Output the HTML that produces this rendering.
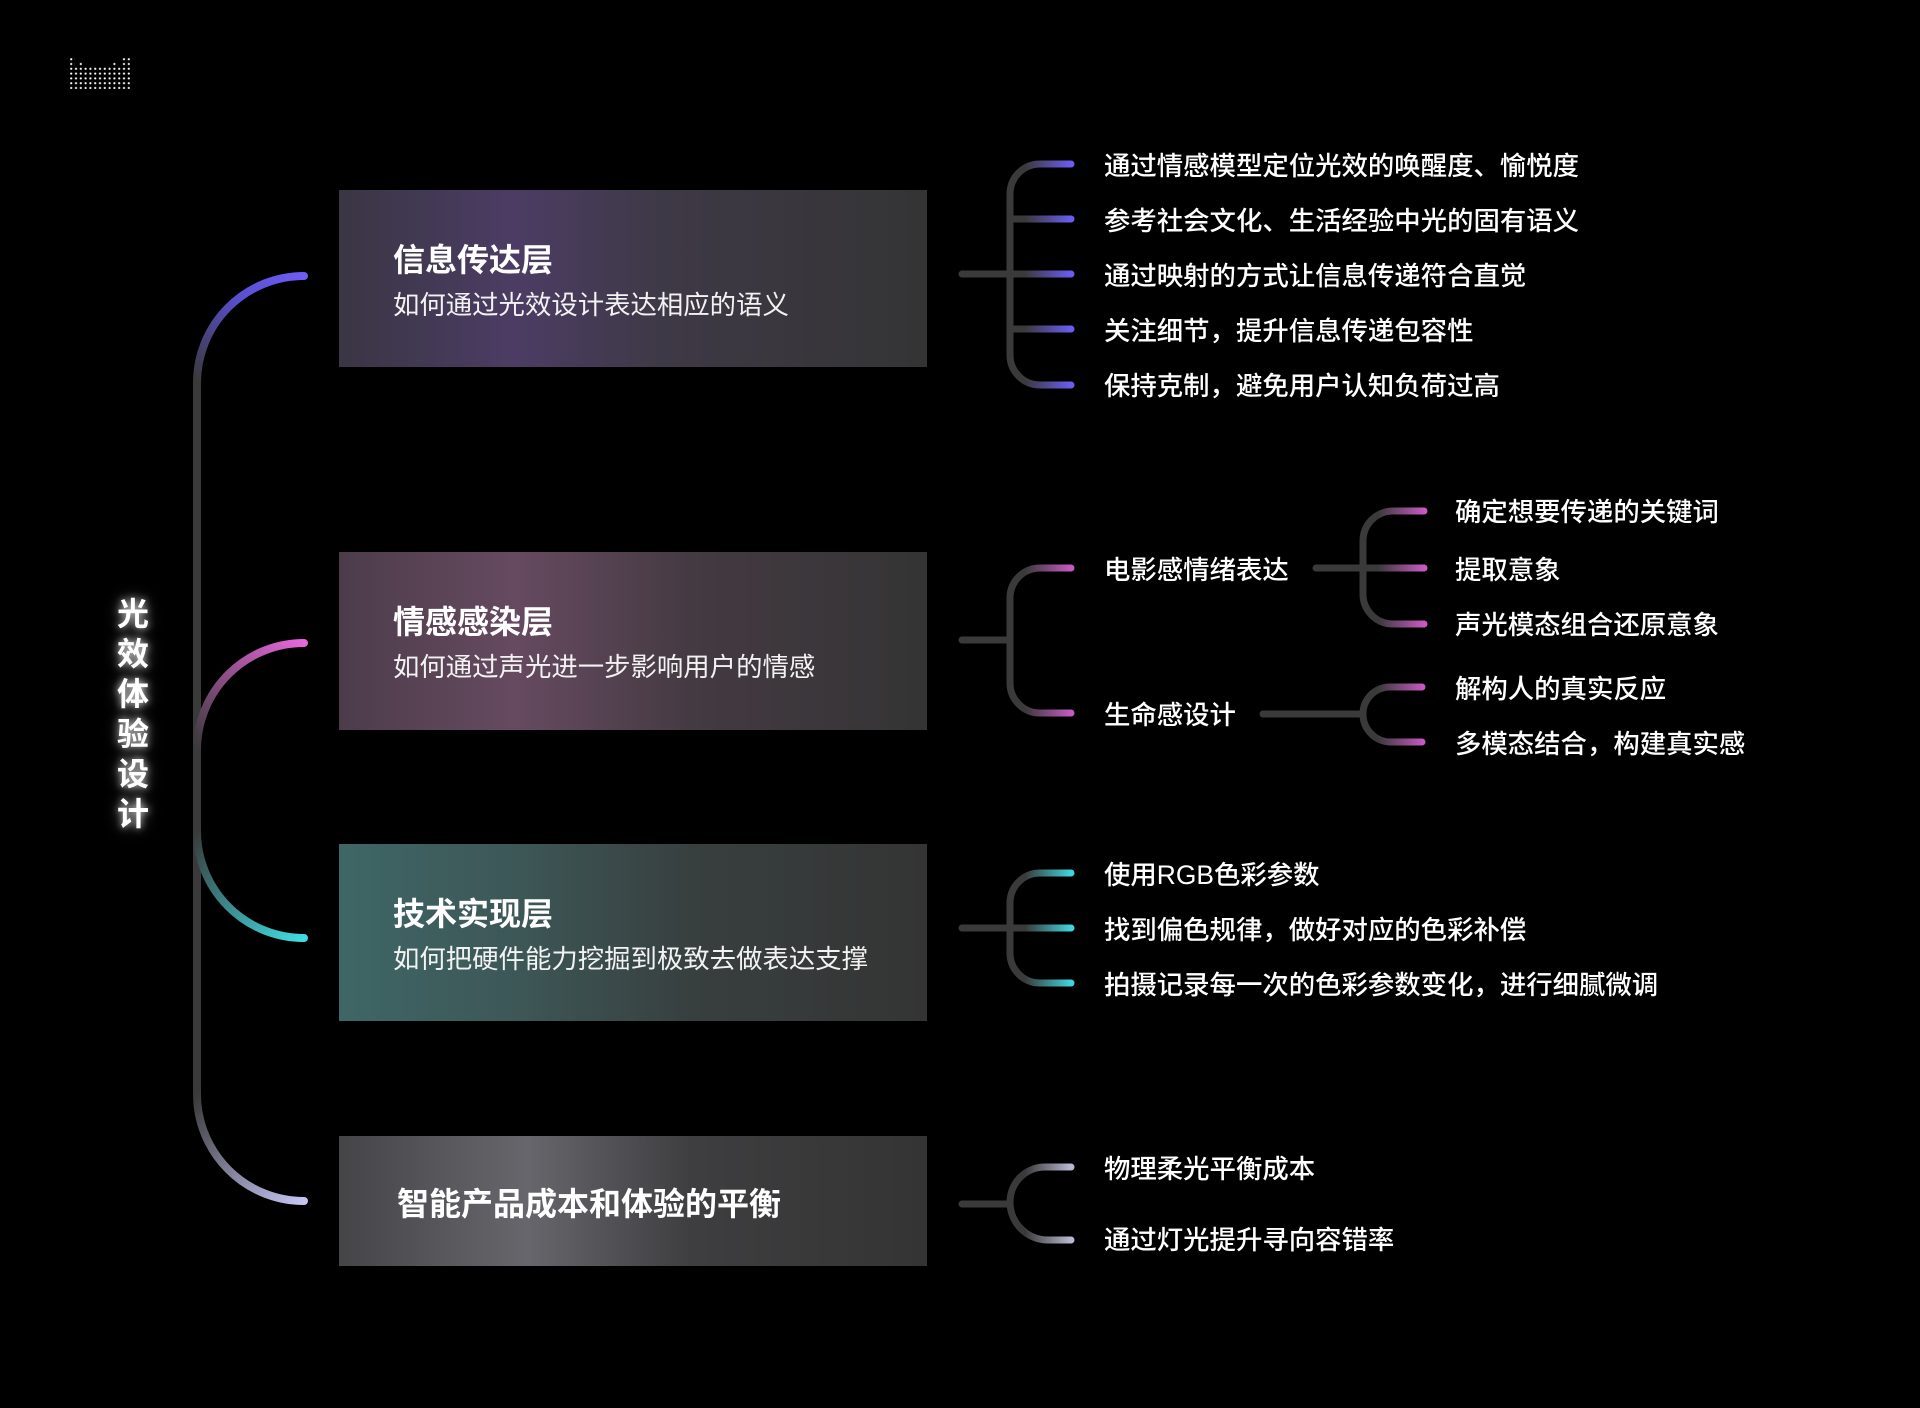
<!DOCTYPE html>
<html><head><meta charset="utf-8"><style>
html,body{margin:0;padding:0;background:#000;}
body{width:1920px;height:1408px;position:relative;overflow:hidden;font-family:"Liberation Sans","Noto Sans CJK SC",sans-serif;color:#fff;}
.t{position:absolute;font-weight:bold;font-size:32px;white-space:nowrap;line-height:1;}
.s{position:absolute;font-size:26.4px;white-space:nowrap;line-height:1;color:#f2f2f2;}
.i{position:absolute;font-size:26.4px;white-space:nowrap;line-height:1;transform:translateY(-50%);font-weight:500;}
.v{position:absolute;left:113px;width:40px;text-align:center;font-weight:bold;font-size:32px;line-height:40px;top:594px;text-shadow:0 0 8px rgba(255,255,255,.8),0 0 16px rgba(255,255,255,.4);}
</style></head><body>
<svg width="1920" height="1408" style="position:absolute;left:0;top:0">
<defs>
<linearGradient id="b1" x1="0" y1="0" x2="1" y2="0"><stop offset="0" stop-color="#3a3644"/><stop offset="0.3" stop-color="#4c3c64"/><stop offset="0.55" stop-color="#3e3946"/><stop offset="1" stop-color="#343434"/></linearGradient>
<linearGradient id="b2" x1="0" y1="0" x2="1" y2="0"><stop offset="0" stop-color="#4c3c4a"/><stop offset="0.3" stop-color="#664a60"/><stop offset="0.6" stop-color="#443a42"/><stop offset="1" stop-color="#343434"/></linearGradient>
<linearGradient id="b3" x1="0" y1="0" x2="1" y2="0"><stop offset="0" stop-color="#3f6666"/><stop offset="0.3" stop-color="#3d5757"/><stop offset="0.6" stop-color="#383f3f"/><stop offset="1" stop-color="#343434"/></linearGradient>
<linearGradient id="b4" x1="0" y1="0" x2="1" y2="0"><stop offset="0" stop-color="#454548"/><stop offset="0.32" stop-color="#66666c"/><stop offset="0.6" stop-color="#3e3e40"/><stop offset="1" stop-color="#343434"/></linearGradient>
<linearGradient id="a1" gradientUnits="userSpaceOnUse" x1="197" y1="383" x2="304" y2="276"><stop offset="0" stop-color="#3a3a3a"/><stop offset="0.6" stop-color="#5a4fd0"/><stop offset="1" stop-color="#6e5cf5"/></linearGradient>
<linearGradient id="a2" gradientUnits="userSpaceOnUse" x1="197" y1="750" x2="304" y2="643"><stop offset="0" stop-color="#3a3a3a"/><stop offset="1" stop-color="#e866dc"/></linearGradient>
<linearGradient id="a3" gradientUnits="userSpaceOnUse" x1="197" y1="831" x2="304" y2="938"><stop offset="0" stop-color="#3a3a3a"/><stop offset="1" stop-color="#40dbe0"/></linearGradient>
<linearGradient id="a4" gradientUnits="userSpaceOnUse" x1="197" y1="1094" x2="304" y2="1201"><stop offset="0" stop-color="#3a3a3a"/><stop offset="1" stop-color="#c4c4f2"/></linearGradient>
<linearGradient id="g1" gradientUnits="userSpaceOnUse" x1="1025" y1="0" x2="1071" y2="0"><stop offset="0" stop-color="#3a3a3a"/><stop offset="1" stop-color="#6a5cf0"/></linearGradient>
<linearGradient id="g2" gradientUnits="userSpaceOnUse" x1="1025" y1="0" x2="1071" y2="0"><stop offset="0" stop-color="#3a3a3a"/><stop offset="1" stop-color="#c65ac0"/></linearGradient>
<linearGradient id="g2b" gradientUnits="userSpaceOnUse" x1="1378" y1="0" x2="1424" y2="0"><stop offset="0" stop-color="#3a3a3a"/><stop offset="1" stop-color="#c65ac0"/></linearGradient>
<linearGradient id="g3" gradientUnits="userSpaceOnUse" x1="1025" y1="0" x2="1071" y2="0"><stop offset="0" stop-color="#3a3a3a"/><stop offset="1" stop-color="#40d4dc"/></linearGradient>
<linearGradient id="g4" gradientUnits="userSpaceOnUse" x1="1025" y1="0" x2="1071" y2="0"><stop offset="0" stop-color="#3a3a3a"/><stop offset="1" stop-color="#b8b8d0"/></linearGradient>
</defs>
<rect x="339" y="190" width="588" height="177" fill="url(#b1)"/>
<rect x="339" y="552" width="588" height="178" fill="url(#b2)"/>
<rect x="339" y="844" width="588" height="177" fill="url(#b3)"/>
<rect x="339" y="1136" width="588" height="130" fill="url(#b4)"/>
<g fill="none" stroke-width="8" stroke-linecap="round">
<path d="M197,383 L197,1094" stroke="#3a3a3a"/>
<path d="M304,276 A107,107 0 0 0 197,383" stroke="url(#a1)"/>
<path d="M304,643 A107,107 0 0 0 197,750" stroke="url(#a2)"/>
<path d="M197,831 A107,107 0 0 0 304,938" stroke="url(#a3)"/>
<path d="M197,1094 A107,107 0 0 0 304,1201" stroke="url(#a4)"/>
</g>
<g fill="none" stroke-width="7" stroke-linecap="round">
<path d="M962,274 H1010" stroke="#3a3a3a"/>
<path d="M1071,164 H1040 A30,30 0 0 0 1010,194 V355 A30,30 0 0 0 1040,385 H1071 M1010,219 H1071 M1010,274 H1071 M1010,329 H1071" stroke="url(#g1)"/>
<path d="M962,640 H1010" stroke="#3a3a3a"/>
<path d="M1071,568 H1040 A30,30 0 0 0 1010,598 V683 A30,30 0 0 0 1040,713 H1071" stroke="url(#g2)"/>
<path d="M1316,568 H1363" stroke="#3a3a3a"/>
<path d="M1424,511 H1393 A30,30 0 0 0 1363,541 V594 A30,30 0 0 0 1393,624 H1424 M1363,568 H1424" stroke="url(#g2b)"/>
<path d="M1263,714 H1363" stroke="#3a3a3a"/>
<path d="M1422,687 H1390 A27,27 0 0 0 1363,714 A28,28 0 0 0 1391,742 H1422" stroke="url(#g2b)"/>
<path d="M962,928 H1010" stroke="#3a3a3a"/>
<path d="M1071,873 H1040 A30,30 0 0 0 1010,903 V953 A30,30 0 0 0 1040,983 H1071 M1010,928 H1071" stroke="url(#g3)"/>
<path d="M962,1204 H1010" stroke="#3a3a3a"/>
<path d="M1071,1167 H1045 A35,35 0 0 0 1010,1202 A38,38 0 0 0 1048,1240 H1071" stroke="url(#g4)"/>
</g>
<g fill="#fff">
<pattern id="dots" x="70" y="58" width="4.8" height="4.8" patternUnits="userSpaceOnUse"><circle cx="1.2" cy="1.2" r="1.1"/></pattern>
<rect x="70" y="67" width="62" height="22" fill="url(#dots)"/>
<rect x="70" y="58" width="5" height="9" fill="url(#dots)"/>
<rect x="79" y="62" width="5" height="5" fill="url(#dots)"/>
<rect x="122" y="58" width="10" height="9" fill="url(#dots)"/>
<rect x="113" y="62" width="5" height="5" fill="url(#dots)"/>
</g>
</svg>
<div class="v">光<br>效<br>体<br>验<br>设<br>计</div>
<div class="t" style="left:393px;top:244px">信息传达层</div>
<div class="s" style="left:393px;top:292px">如何通过光效设计表达相应的语义</div>
<div class="t" style="left:393px;top:606px">情感感染层</div>
<div class="s" style="left:393px;top:654px">如何通过声光进一步影响用户的情感</div>
<div class="t" style="left:393px;top:898px">技术实现层</div>
<div class="s" style="left:393px;top:946px">如何把硬件能力挖掘到极致去做表达支撑</div>
<div class="t" style="left:397px;top:1188px">智能产品成本和体验的平衡</div>
<div class="i" style="left:1104px;top:166px">通过情感模型定位光效的唤醒度、愉悦度</div>
<div class="i" style="left:1104px;top:221px">参考社会文化、生活经验中光的固有语义</div>
<div class="i" style="left:1104px;top:276px">通过映射的方式让信息传递符合直觉</div>
<div class="i" style="left:1104px;top:331px">关注细节，提升信息传递包容性</div>
<div class="i" style="left:1104px;top:386px">保持克制，避免用户认知负荷过高</div>
<div class="i" style="left:1104px;top:570px">电影感情绪表达</div>
<div class="i" style="left:1104px;top:715px">生命感设计</div>
<div class="i" style="left:1455px;top:512px">确定想要传递的关键词</div>
<div class="i" style="left:1455px;top:570px">提取意象</div>
<div class="i" style="left:1455px;top:625px">声光模态组合还原意象</div>
<div class="i" style="left:1455px;top:689px">解构人的真实反应</div>
<div class="i" style="left:1455px;top:744px">多模态结合，构建真实感</div>
<div class="i" style="left:1104px;top:875px">使用RGB色彩参数</div>
<div class="i" style="left:1104px;top:930px">找到偏色规律，做好对应的色彩补偿</div>
<div class="i" style="left:1104px;top:985px">拍摄记录每一次的色彩参数变化，进行细腻微调</div>
<div class="i" style="left:1104px;top:1169px">物理柔光平衡成本</div>
<div class="i" style="left:1104px;top:1240px">通过灯光提升寻向容错率</div>
</body></html>
